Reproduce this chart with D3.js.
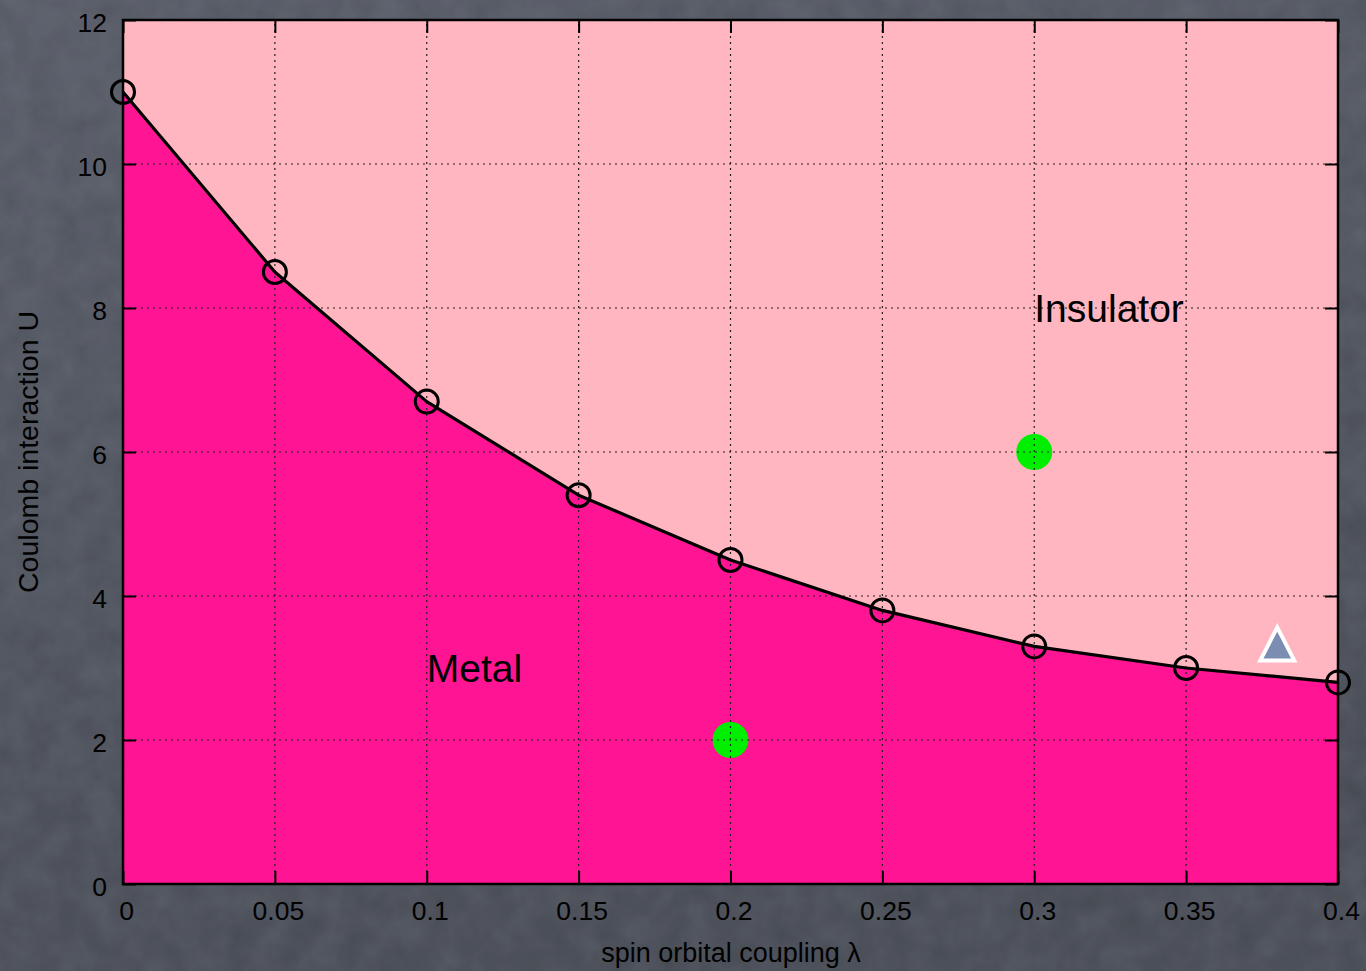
<!DOCTYPE html>
<html>
<head>
<meta charset="utf-8">
<script src="https://cdn.jsdelivr.net/npm/d3@7"></script>
<style>
  html, body { margin: 0; padding: 0; background: #4b4f59; }
  svg { display: block; font-family: "Liberation Sans", Arial, sans-serif; }
</style>
</head>
<body>
<div class="phaseChart"></div>
<script>
// boundary points
const lambdas = [0, 0.05, 0.1, 0.15, 0.2, 0.25, 0.3, 0.35, 0.4]
const uCritical = [11, 8.5, 6.7, 5.4, 4.5, 3.8, 3.3, 3.0, 2.8]
// extra markers
const greenPoints = [[0.3, 6], [0.2, 2]]
const trianglePoint = [0.38, 3.3]
// tick labels
const xTicks = [0, 0.05, 0.1, 0.15, 0.2, 0.25, 0.3, 0.35, 0.4]
const yTicks = [0, 2, 4, 6, 8, 10, 12]
const regionLabels = [
    { text: "Insulator", x: 0.3, y: 8 },
    { text: "Metal", x: 0.1, y: 3 }
]

const width = 1366, height = 971
const margin = { top: 20, right: 28, bottom: 87, left: 123 }

const svg = d3.select(".phaseChart")
    .append("svg")
    .attr("width", width)
    .attr("height", height)

// slate background with a fine grain
const defs = svg.append("defs")
const bgGrad = defs.append("linearGradient").attr("id", "bgGrad")
    .attr("x1", 0).attr("y1", 0).attr("x2", 0.3).attr("y2", 1)
bgGrad.append("stop").attr("offset", 0).attr("stop-color", "#545863")
bgGrad.append("stop").attr("offset", 1).attr("stop-color", "#454952")

const noise = defs.append("filter").attr("id", "noise")
    .attr("x", 0).attr("y", 0).attr("width", "100%").attr("height", "100%")
noise.append("feTurbulence").attr("type", "fractalNoise")
    .attr("baseFrequency", 0.035).attr("numOctaves", 3).attr("seed", 7)
noise.append("feColorMatrix").attr("type", "matrix")
    .attr("values", "0 0 0 0 0.40  0 0 0 0 0.43  0 0 0 0 0.50  0 0 0 0.18 0")
noise.append("feComposite").attr("in2", "SourceGraphic").attr("operator", "in")

svg.append("rect").attr("width", width).attr("height", height).attr("fill", "url(#bgGrad)")
svg.append("rect").attr("width", width).attr("height", height).attr("fill", "#4b4f59").attr("filter", "url(#noise)")

const x = d3.scaleLinear()
    .domain([0, 0.4])
    .range([margin.left, width - margin.right])

const y = d3.scaleLinear()
    .domain([0, 12])
    .range([height - margin.bottom, margin.top])

const data = lambdas.map((l, i) => [l, uCritical[i]])
const curve = d3.curveLinear

// insulator background
svg.append("rect")
    .attr("x", x(0)).attr("y", y(12))
    .attr("width", x(0.4) - x(0)).attr("height", y(0) - y(12))
    .attr("fill", "#ffb6c1")

// metal region under boundary
svg.append("path")
    .datum(data)
    .attr("fill", "#ff1493")
    .attr("d", d3.area().x(d => x(d[0])).y0(y(0)).y1(d => y(d[1])).curve(curve))

svg.selectAll(".green")
    .data(greenPoints)
    .join("circle")
    .attr("class", "green")
    .attr("cx", d => x(d[0]))
    .attr("cy", d => y(d[1]))
    .attr("r", 18)
    .attr("fill", "#00ee00")

// dotted grid
const grid = svg.append("g")
    .attr("stroke", "#222")
    .attr("stroke-width", 1.2)
    .attr("stroke-dasharray", "2,4")
grid.selectAll(".gx")
    .data(xTicks.slice(1, -1))
    .join("line")
    .attr("x1", d => x(d)).attr("x2", d => x(d))
    .attr("y1", y(0)).attr("y2", y(12))
grid.selectAll(".gy")
    .data(yTicks.slice(1, -1))
    .join("line")
    .attr("y1", d => y(d)).attr("y2", d => y(d))
    .attr("x1", x(0)).attr("x2", x(0.4))

// axes, ticks pointing inward on all four sides
const tickLen = 13
const axisG = svg.append("g")

axisG.append("g")
    .attr("class", "x-axis")
    .attr("transform", `translate(0,${y(0)})`)
    .call(d3.axisBottom(x).tickValues(xTicks).tickSize(-tickLen).tickPadding(17).tickFormat(d3.format("")))
axisG.append("g")
    .attr("transform", `translate(0,${y(12)})`)
    .call(d3.axisTop(x).tickValues(xTicks).tickSize(-tickLen).tickFormat(""))
axisG.append("g")
    .attr("class", "y-axis")
    .attr("transform", `translate(${x(0)},0)`)
    .call(d3.axisLeft(y).tickValues(yTicks).tickSize(-tickLen).tickPadding(16))
axisG.append("g")
    .attr("transform", `translate(${x(0.4)},0)`)
    .call(d3.axisRight(y).tickValues(yTicks).tickSize(-tickLen).tickFormat(""))

axisG.selectAll(".domain").remove()
axisG.selectAll(".tick line").attr("stroke", "#000").attr("stroke-width", 2)
axisG.selectAll("text")
    .attr("fill", "#000")
    .attr("font-size", 26.5)
    .attr("font-family", "'Liberation Sans', Arial, sans-serif")
axisG.selectAll(".x-axis text").attr("dx", 3)
axisG.selectAll(".y-axis text").attr("dy", "0.42em")

// frame
svg.append("rect")
    .attr("x", x(0)).attr("y", y(12))
    .attr("width", x(0.4) - x(0)).attr("height", y(0) - y(12))
    .attr("fill", "none")
    .attr("stroke", "#000")
    .attr("stroke-width", 2.5)

// boundary line
svg.append("path")
    .datum(data)
    .attr("fill", "none")
    .attr("stroke", "#000")
    .attr("stroke-width", 3.2)
    .attr("stroke-linejoin", "round")
    .attr("d", d3.line().x(d => x(d[0])).y(d => y(d[1])).curve(curve))

svg.selectAll(".pt")
    .data(data)
    .join("circle")
    .attr("class", "pt")
    .attr("cx", d => x(d[0]))
    .attr("cy", d => y(d[1]))
    .attr("r", 11.5)
    .attr("fill", "none")
    .attr("stroke", "#000")
    .attr("stroke-width", 3)

// triangle
svg.append("path")
    .attr("transform", `translate(${x(trianglePoint[0])},${y(trianglePoint[1])})`)
    .attr("d", "M0,-19 L17,14 L-17,14 Z")
    .attr("fill", "#7b8db0")
    .attr("stroke", "#fff")
    .attr("stroke-width", 4)

// region labels
svg.selectAll(".region")
    .data(regionLabels)
    .join("text")
    .attr("class", "region")
    .attr("x", d => x(d.x))
    .attr("y", d => y(d.y))
    .attr("dy", "0.35em")
    .attr("font-size", 39)
    .attr("fill", "#000")
    .text(d => d.text)

// axis titles
svg.append("text")
    .attr("x", 731)
    .attr("y", 962)
    .attr("text-anchor", "middle")
    .attr("font-size", 27)
    .attr("fill", "#000")
    .text("spin orbital coupling λ")

svg.append("text")
    .attr("transform", `translate(38,${(y(0) + y(12)) / 2}) rotate(-90)`)
    .attr("text-anchor", "middle")
    .attr("font-size", 28.5)
    .attr("fill", "#000")
    .text("Coulomb interaction U")
</script>
</body>
</html>
